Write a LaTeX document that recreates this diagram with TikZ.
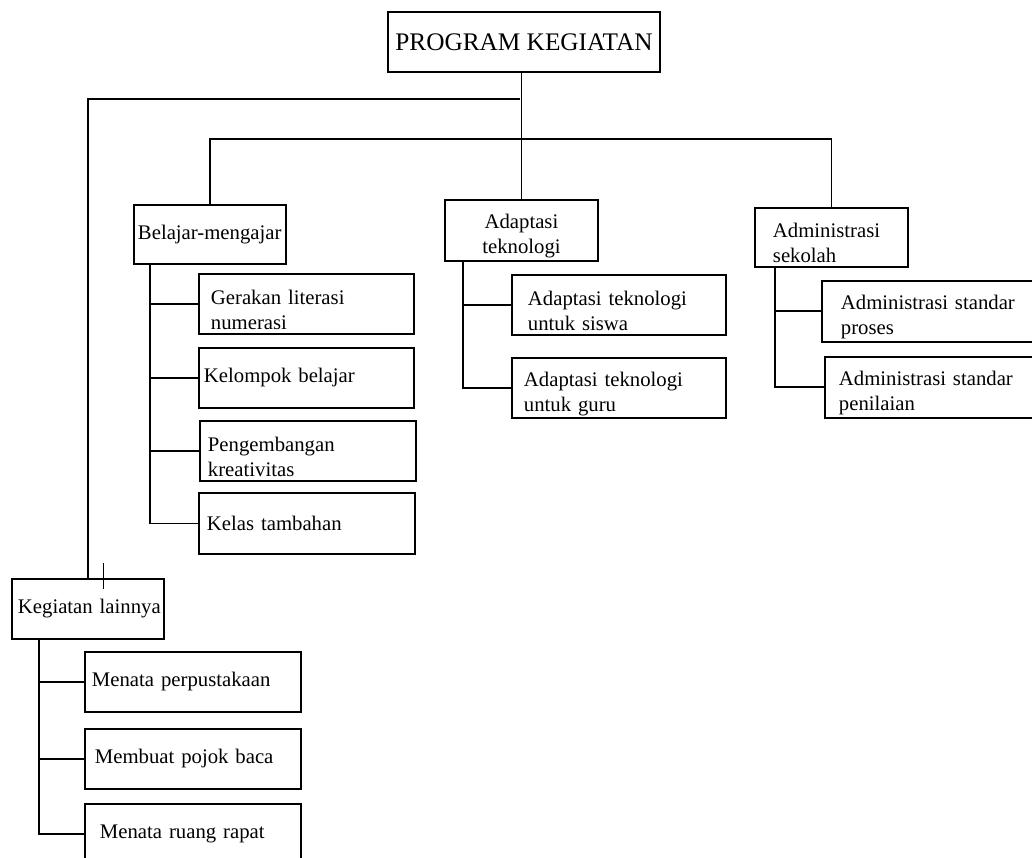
\documentclass[tikz,border=0pt]{standalone}
\usepackage{fontspec}
\setmainfont{Liberation Serif}
\usepackage{tikz}
\usetikzlibrary{positioning}
\newcommand{\satuan}{0.02cm}
\newcommand{\hurufisi}{\fontsize{11.8}{14.2}\selectfont}
\newcommand{\hurufjudul}{\fontsize{14.4}{17}\selectfont}
\tikzset{%
	judul/.style  = {draw, rectangle, anchor=north west, font=\hurufjudul, minimum width=272*\satuan, minimum height=60*\satuan}, % Puncak
	kotak/.style  = {draw, rectangle, anchor=north west, align=left, font=\hurufisi, inner ysep=0pt}, % Kotak kegiatan
	ukur/.style n args = {3}{minimum height=#2*\satuan, inner xsep=#3*\satuan, text width=(#1-2*#3)*\satuan},
	duabaris/.style = {text height=26*\satuan}, % Teks dua baris agak turun
	tanda/.style  = {line width=0.4pt},
}

\begin{document}
\begin{tikzpicture}[x=\satuan,y=-\satuan,line width=1.1pt]
	\useasboundingbox (0,0) rectangle (1032,858);
	
	\node [judul] (program) at (387,11) {PROGRAM KEGIATAN};
	
	\node [kotak,ukur={152}{59}{4}] (belajar) at (133,204) {\mbox{Belajar-mengajar}};
	\node [kotak,ukur={153}{61}{0},align=center,duabaris] (adaptasi) at (444,199) {Adaptasi\\teknologi};
	\node [kotak,ukur={153}{59}{18},duabaris] (admin) at (754,207) {Administrasi\\sekolah};
	\node [kotak,ukur={152}{60}{6}] (lainnya) at (11,578) {\mbox{Kegiatan lainnya}};
	
	\node [kotak,ukur={215}{60}{12},duabaris] (gerakan) at (198,273) {Gerakan literasi\\numerasi};
	\node [kotak,ukur={215}{60}{5}] (kelompok) at (198,347) {Kelompok belajar};
	\node [kotak,ukur={216}{60}{8},duabaris] (pengembangan) at (199,420) {Pengembangan\\kreativitas};
	\node [kotak,ukur={216}{61}{8}] (kelas) at (198,492) {Kelas tambahan};
	
	\node [kotak,ukur={214}{60}{16},duabaris] (siswa) at (511,274) {Adaptasi teknologi\\untuk siswa};
	\node [kotak,ukur={214}{60}{12},duabaris] (guru) at (511,357) {Adaptasi teknologi\\untuk guru};
	
	\node [kotak,ukur={225}{61}{19},duabaris] (proses) at (821,280) {Administrasi standar\\proses};
	\node [kotak,ukur={222}{61}{14},duabaris] (penilaian) at (824,356) {Administrasi standar\\penilaian};
	
	\node [kotak,ukur={216}{60}{7}] (perpus) at (84,651) {Menata perpustakaan};
	\node [kotak,ukur={216}{60}{10}] (pojok) at (84,728) {Membuat pojok baca};
	\node [kotak,ukur={216}{60}{15}] (rapat) at (84,803) {Menata ruang rapat};
	
	\coordinate (simpang1) at (520,99);
	\coordinate (simpang2) at (520,139);
	
	\draw (adaptasi.north |- program.south) -- (adaptasi.north);
	\draw (simpang1) -| (lainnya.north);
	\draw (belajar.north) |- (simpang2) -| (admin.north);
	
	\foreach \anak in {gerakan,kelompok,pengembangan,kelas}
		\draw (belajar.south west) ++(17,0) |- (\anak.west);
	\foreach \anak in {siswa,guru}
		\draw (adaptasi.south west) ++(19,0) |- (\anak.west);
	\foreach \anak in {proses,penilaian}
		\draw (admin.south west) ++(21,0) |- (\anak.west);
	\foreach \anak in {perpus,pojok,rapat}
		\draw (lainnya.south west) ++(28,0) |- (\anak.west);
	
	\draw [tanda] (lainnya.north west) ++(92,-15) -- ++(0,26);
\end{tikzpicture}
\end{document}
